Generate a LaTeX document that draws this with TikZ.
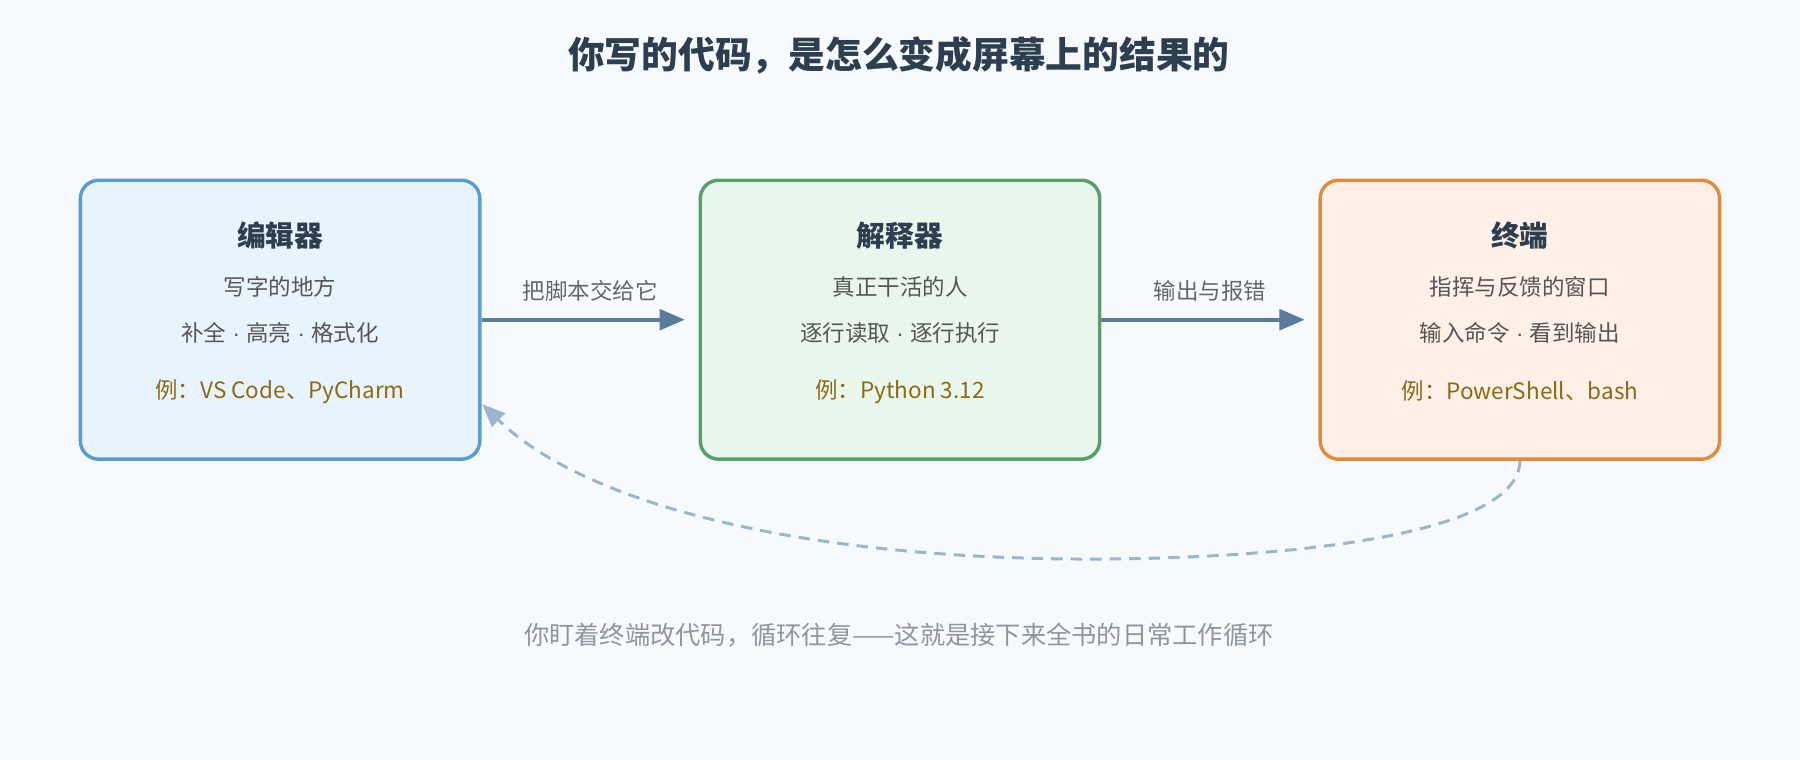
\documentclass[tikz,border=0pt]{standalone}
\usepackage{fontspec}
\setmainfont{Noto Sans CJK SC}
\newfontfamily\latf{Liberation Sans}
\newcommand{\md}{{\latf\ ·\ }}
\usetikzlibrary{arrows.meta,calc}
\definecolor{bg}{HTML}{F7FAFD}
\definecolor{ttl}{HTML}{2C3E50}
\definecolor{body}{HTML}{555555}
\definecolor{ex}{HTML}{8B6A14}
\definecolor{arr}{HTML}{5A7A9E}
\definecolor{dsh}{HTML}{9AB5D0}
\begin{document}
\begin{tikzpicture}[x=0.5pt,y=-0.5pt,
 box/.style={draw=#1,line width=1.5pt,rounded corners=8pt,minimum width=174pt,minimum height=121.5pt,inner sep=0pt},
 hd/.style={font=\fontsize{12.5}{14}\selectfont\bfseries,text=ttl},
 tx/.style={font=\fontsize{9.8}{11}\selectfont,text=body},
 exs/.style={font=\fontsize{9.8}{11}\selectfont,text=ex},
 flow/.style={draw=arr,line width=1.6pt,-{Triangle[length=11pt,width=9pt]}},
 lab/.style={font=\fontsize{9.8}{11}\selectfont,text=body!90}]
\fill[bg] (0,0) rectangle (1568,662);
\node[font=\fontsize{16}{18}\selectfont\bfseries,text=ttl] (title) at (783,48) {你写的代码，是怎么变成屏幕上的结果的};
\definecolor{b1}{HTML}{5B9BD5}\definecolor{b2}{HTML}{55A06A}\definecolor{b3}{HTML}{E08B3A}
\node[box=b1,fill={rgb,255:red,232;green,244;blue,253}] (ed) at (244,278.5) {};
\node[box=b2,fill={rgb,255:red,233;green,246;blue,236}] (in) at (784,278.5) {};
\node[box=b3,fill={rgb,255:red,254;green,240;blue,230}] (te) at (1324,278.5) {};
\foreach \n/\x/\h/\a/\b/\e in {e/244/编辑器/写字的地方/补全\md 高亮\md 格式化/例：VS Code、PyCharm,
  i/784/解释器/真正干活的人/逐行读取\md 逐行执行/例：Python 3.12,
  t/1324/终端/指挥与反馈的窗口/输入命令\md 看到输出/例：PowerShell、bash}{
  \node[hd] (\n h) at (\x,205) {\h};
  \node[tx] (\n a) at (\x,250) {\a};
  \node[tx] (\n b) at (\x,290) {\b};
  \node[exs] (\n c) at (\x,341) {\e};
}
\draw[flow,shorten >=6pt] (ed.east) -- node[lab,above=4pt] (l1) {把脚本交给它} (in.west);
\draw[flow,shorten >=6pt] (in.east) -- node[lab,above=4pt] (l2) {输出与报错} (te.west);
\coordinate (ein) at (420,352);
\draw[dsh,line width=1.3pt,dash pattern=on 5pt off 3.5pt,-{Triangle[length=10pt,width=8pt]}]
 (te.south) .. controls (1323,470) and (1100,487) .. (950,487)
 .. controls (700,487) and (510,440) .. (ein);
\node[font=\fontsize{11}{13}\selectfont,text={rgb,255:red,140;green,150;blue,160}] (foot) at (783,553) {你盯着终端改代码，循环往复——这就是接下来全书的日常工作循环};
\end{tikzpicture}
\end{document}
